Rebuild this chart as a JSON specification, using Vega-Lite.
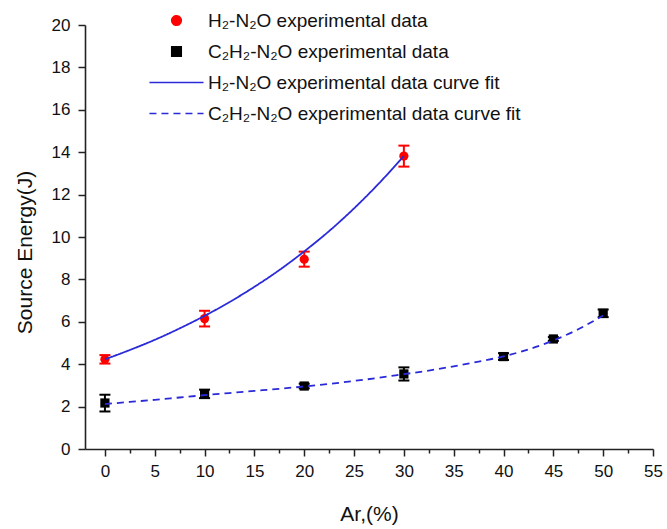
{
  "$schema": "https://vega.github.io/schema/vega-lite/v6.json",
  "width": 568,
  "height": 424,
  "autosize": {"type": "none"},
  "padding": {"left": 85, "top": 25, "right": 14, "bottom": 80},
  "background": "white",
  "config": {"view": {"stroke": null}, "font": "Liberation Sans, Arial, DejaVu Sans"},
  "datasets": {
    "exp": [
      {"series": "H₂-N₂O experimental data", "ar": 0, "energy": 4.23, "low": 4.03, "high": 4.43},
      {"series": "H₂-N₂O experimental data", "ar": 10, "energy": 6.15, "low": 5.78, "high": 6.52},
      {"series": "H₂-N₂O experimental data", "ar": 20, "energy": 8.95, "low": 8.6, "high": 9.31},
      {"series": "H₂-N₂O experimental data", "ar": 30, "energy": 13.82, "low": 13.32, "high": 14.31},
      {"series": "C₂H₂-N₂O experimental data", "ar": 0, "energy": 2.17, "low": 1.77, "high": 2.56},
      {"series": "C₂H₂-N₂O experimental data", "ar": 10, "energy": 2.6, "low": 2.4, "high": 2.8},
      {"series": "C₂H₂-N₂O experimental data", "ar": 20, "energy": 2.97, "low": 2.86, "high": 3.08},
      {"series": "C₂H₂-N₂O experimental data", "ar": 30, "energy": 3.54, "low": 3.23, "high": 3.85},
      {"series": "C₂H₂-N₂O experimental data", "ar": 40, "energy": 4.36, "low": 4.2, "high": 4.52},
      {"series": "C₂H₂-N₂O experimental data", "ar": 45, "energy": 5.19, "low": 5.1, "high": 5.28},
      {"series": "C₂H₂-N₂O experimental data", "ar": 50, "energy": 6.4, "low": 6.22, "high": 6.58}
    ],
    "fit": [
      {"series": "H₂-N₂O experimental data curve fit", "ar": 0, "energy": 4.23},
      {"series": "H₂-N₂O experimental data curve fit", "ar": 2.5, "energy": 4.67},
      {"series": "H₂-N₂O experimental data curve fit", "ar": 5, "energy": 5.15},
      {"series": "H₂-N₂O experimental data curve fit", "ar": 7.5, "energy": 5.69},
      {"series": "H₂-N₂O experimental data curve fit", "ar": 10, "energy": 6.28},
      {"series": "H₂-N₂O experimental data curve fit", "ar": 12.5, "energy": 6.93},
      {"series": "H₂-N₂O experimental data curve fit", "ar": 15, "energy": 7.65},
      {"series": "H₂-N₂O experimental data curve fit", "ar": 17.5, "energy": 8.44},
      {"series": "H₂-N₂O experimental data curve fit", "ar": 20, "energy": 9.32},
      {"series": "H₂-N₂O experimental data curve fit", "ar": 22.5, "energy": 10.28},
      {"series": "H₂-N₂O experimental data curve fit", "ar": 25, "energy": 11.35},
      {"series": "H₂-N₂O experimental data curve fit", "ar": 27.5, "energy": 12.53},
      {"series": "H₂-N₂O experimental data curve fit", "ar": 30, "energy": 13.82},
      {"series": "C₂H₂-N₂O experimental data curve fit", "ar": 0, "energy": 2.12},
      {"series": "C₂H₂-N₂O experimental data curve fit", "ar": 2.5, "energy": 2.22},
      {"series": "C₂H₂-N₂O experimental data curve fit", "ar": 5, "energy": 2.32},
      {"series": "C₂H₂-N₂O experimental data curve fit", "ar": 7.5, "energy": 2.43},
      {"series": "C₂H₂-N₂O experimental data curve fit", "ar": 10, "energy": 2.54},
      {"series": "C₂H₂-N₂O experimental data curve fit", "ar": 12.5, "energy": 2.64},
      {"series": "C₂H₂-N₂O experimental data curve fit", "ar": 15, "energy": 2.74},
      {"series": "C₂H₂-N₂O experimental data curve fit", "ar": 17.5, "energy": 2.84},
      {"series": "C₂H₂-N₂O experimental data curve fit", "ar": 20, "energy": 2.95},
      {"series": "C₂H₂-N₂O experimental data curve fit", "ar": 22.5, "energy": 3.07},
      {"series": "C₂H₂-N₂O experimental data curve fit", "ar": 25, "energy": 3.21},
      {"series": "C₂H₂-N₂O experimental data curve fit", "ar": 27.5, "energy": 3.36},
      {"series": "C₂H₂-N₂O experimental data curve fit", "ar": 30, "energy": 3.53},
      {"series": "C₂H₂-N₂O experimental data curve fit", "ar": 32.5, "energy": 3.7},
      {"series": "C₂H₂-N₂O experimental data curve fit", "ar": 35, "energy": 3.9},
      {"series": "C₂H₂-N₂O experimental data curve fit", "ar": 37.5, "energy": 4.12},
      {"series": "C₂H₂-N₂O experimental data curve fit", "ar": 40, "energy": 4.37},
      {"series": "C₂H₂-N₂O experimental data curve fit", "ar": 42.5, "energy": 4.7},
      {"series": "C₂H₂-N₂O experimental data curve fit", "ar": 45, "energy": 5.12},
      {"series": "C₂H₂-N₂O experimental data curve fit", "ar": 47.5, "energy": 5.65},
      {"series": "C₂H₂-N₂O experimental data curve fit", "ar": 50, "energy": 6.3}
    ]
  },
  "encoding": {
    "x": {
      "field": "ar",
      "type": "quantitative",
      "title": "Ar,(%)",
      "scale": {"domain": [-2, 55], "nice": false, "zero": false},
      "axis": {
        "values": [0, 2.5, 5, 7.5, 10, 12.5, 15, 17.5, 20, 22.5, 25, 27.5, 30, 32.5, 35, 37.5, 40, 42.5, 45, 47.5, 50, 52.5, 55],
        "labelExpr": "datum.value % 5 === 0 ? datum.label : ''",
        "tickSize": {"condition": {"test": "datum.value % 5 === 0", "value": 7}, "value": 4},
        "labelPadding": 7,
        "labelFontSize": 17,
        "labelColor": "#111",
        "labelOverlap": false,
        "labelFlush": false,
        "domainColor": "#222",
        "domainWidth": 1.6,
        "tickColor": "#222",
        "tickWidth": 1.5,
        "grid": false,
        "titleFontSize": 21,
        "titleFontWeight": "normal",
        "titleColor": "#111",
        "titleBaseline": "alphabetic",
        "titleY": 71
      }
    }
  },
  "layer": [
    {
      "data": {"name": "exp"},
      "mark": {"type": "rule", "strokeWidth": 2, "opacity": 1},
      "encoding": {
        "y": {
          "field": "low",
          "type": "quantitative",
          "title": "Source Energy(J)",
          "scale": {"domain": [0, 20], "nice": false},
          "axis": {
            "values": [0, 1, 2, 3, 4, 5, 6, 7, 8, 9, 10, 11, 12, 13, 14, 15, 16, 17, 18, 19, 20],
            "labelExpr": "datum.value % 2 === 0 ? datum.label : ''",
            "tickSize": {"condition": {"test": "datum.value % 2 === 0", "value": 7}, "value": 4},
            "labelPadding": 8,
            "labelFontSize": 17,
            "labelColor": "#111",
            "labelOverlap": false,
            "labelFlush": false,
            "domainColor": "#222",
            "domainWidth": 1.6,
            "tickColor": "#222",
            "tickWidth": 1.5,
            "grid": false,
            "titleFontSize": 21,
            "titleFontWeight": "normal",
            "titleColor": "#111",
            "titleAngle": -90,
            "titleAlign": "center",
            "titleBaseline": "middle",
            "titleX": -60,
            "titleY": 227
          }
        },
        "y2": {"field": "high"},
        "color": {
          "field": "series",
          "type": "nominal",
          "scale": {
            "domain": ["H₂-N₂O experimental data", "C₂H₂-N₂O experimental data", "H₂-N₂O experimental data curve fit", "C₂H₂-N₂O experimental data curve fit"],
            "range": ["#ff0000", "#000000", "#2a2ad8", "#2a2ad8"]
          },
          "legend": {
            "orient": "none",
            "legendX": 82,
            "legendY": -14,
            "title": null,
            "padding": 0,
            "labelFontSize": 19,
            "labelColor": "#111",
            "labelOffset": 22,
            "labelLimit": 600,
            "symbolSize": 90,
            "symbolOpacity": 1,
            "symbolStrokeWidth": 1.6,
            "rowPadding": 11
          }
        }
      }
    },
    {
      "data": {"name": "exp"},
      "mark": {"type": "tick", "orient": "horizontal", "size": 11, "thickness": 2, "opacity": 1},
      "encoding": {
        "y": {"field": "low", "type": "quantitative", "title": "Source Energy(J)"},
        "color": {"field": "series", "type": "nominal"}
      }
    },
    {
      "data": {"name": "exp"},
      "mark": {"type": "tick", "orient": "horizontal", "size": 11, "thickness": 2, "opacity": 1},
      "encoding": {
        "y": {"field": "high", "type": "quantitative", "title": "Source Energy(J)"},
        "color": {"field": "series", "type": "nominal"}
      }
    },
    {
      "data": {"name": "exp"},
      "mark": {"type": "point", "filled": true, "size": 85, "opacity": 1},
      "encoding": {
        "y": {"field": "energy", "type": "quantitative", "title": "Source Energy(J)"},
        "color": {"field": "series", "type": "nominal"},
        "shape": {
          "field": "series",
          "type": "nominal",
          "scale": {
            "domain": ["H₂-N₂O experimental data", "C₂H₂-N₂O experimental data", "H₂-N₂O experimental data curve fit", "C₂H₂-N₂O experimental data curve fit"],
            "range": ["circle", "square", "M-5.7,0H5.7", "M-5.7,0H5.7"]
          }
        }
      }
    },
    {
      "data": {"name": "fit"},
      "mark": {"type": "line", "strokeWidth": 1.8, "interpolate": "monotone", "opacity": 1},
      "encoding": {
        "y": {"field": "energy", "type": "quantitative", "title": "Source Energy(J)"},
        "color": {"field": "series", "type": "nominal"},
        "strokeDash": {
          "field": "series",
          "type": "nominal",
          "scale": {
            "domain": ["H₂-N₂O experimental data", "C₂H₂-N₂O experimental data", "H₂-N₂O experimental data curve fit", "C₂H₂-N₂O experimental data curve fit"],
            "range": [[1, 0], [1, 0], [1, 0], [7, 5]]
          }
        }
      }
    }
  ]
}
